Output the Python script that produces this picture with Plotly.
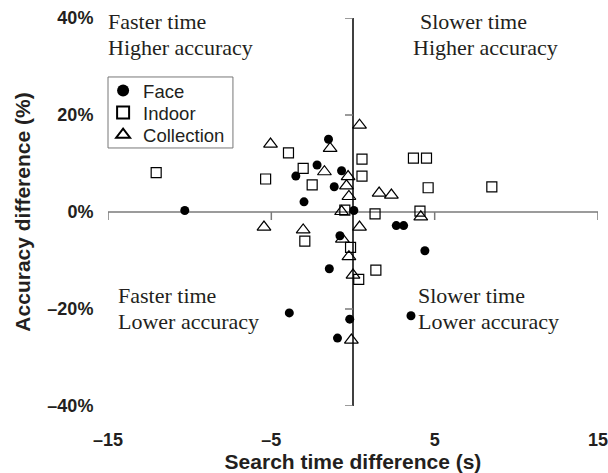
import plotly.graph_objects as go

# ---- data ----
face_x = [-10.3, -1.5, -2.2, -3.5, -0.7, -1.15, -3.0, 0.05, 2.65, 3.1, 4.4, 3.55, -0.8, -1.45, -3.9, -0.2, -0.95]
face_y = [0.3, 15.0, 9.7, 7.4, 8.5, 5.2, 2.1, 0.3, -2.8, -2.8, -8.0, -21.4, -4.9, -11.7, -20.8, -22.1, -26.0]

indoor_x = [-12.05, -5.35, -3.95, -3.05, -2.5, -0.5, 0.55, 0.55, 3.7, 4.5, 4.6, 8.5, 1.35, 4.1, -2.95, -0.15, 0.35, 1.4]
indoor_y = [8.1, 6.8, 12.2, 9.0, 5.6, 0.4, 10.9, 7.4, 11.1, 11.1, 5.0, 5.2, -0.4, 0.2, -6.0, -7.3, -13.9, -12.0]

collection_x = [-5.05, -1.4, -1.75, -0.3, -0.4, -0.25, -0.7, 0.4, 1.6, 2.35, 4.15, -5.45, -3.05, -0.65, 0.4, -0.25, 0.0, -0.1]
collection_y = [14.0, 13.1, 8.3, 7.3, 5.4, 3.2, 0.1, 17.9, 3.9, 3.5, -1.0, -3.1, -3.7, -5.6, -3.1, -9.2, -13.0, -26.4]

x_ticks = [-15, -5, 5, 15]
x_ticktext = ["\u201315", "\u20135", "5", "15"]
y_ticks = [-40, -20, 0, 20, 40]
y_ticktext = ["\u201340%", "\u201320%", "0%", "20%", "40%"]

# quadrant captions: (text, paper x, paper y)
quadrant_text = [
    ("Faster time", -0.004, 0.992),
    ("Higher accuracy", -0.004, 0.923),
    ("Slower time", 0.633, 0.992),
    ("Higher accuracy", 0.618, 0.923),
    ("Faster time", 0.016, 0.286),
    ("Lower accuracy", 0.016, 0.2165),
    ("Slower time", 0.629, 0.286),
    ("Lower accuracy", 0.629, 0.2165),
]

SANS = "Liberation Sans, Arial, sans-serif"
SERIF = "Liberation Serif, Times New Roman, serif"
INK = "#231f20"

fig = go.Figure()
fig.add_trace(go.Scatter(x=face_x, y=face_y, mode="markers", name="Face", legend="legend",
                         marker=dict(symbol="circle", size=9, color="black", line=dict(width=0))))
fig.add_trace(go.Scatter(x=indoor_x, y=indoor_y, mode="markers", name="Indoor", legend="legend2",
                         marker=dict(symbol="square-open", size=10, color="black", line=dict(width=1.2))))
fig.add_trace(go.Scatter(x=collection_x, y=collection_y, mode="markers", name="Collection", legend="legend3",
                         marker=dict(symbol="triangle-up-open", size=12, color="black", line=dict(width=1.2))))

shapes = []
# crossing axes
shapes.append(dict(type="line", xref="x", yref="y", x0=-15, x1=15, y0=0, y1=0,
                   line=dict(color="#7a7a7a", width=1.5), layer="below"))
shapes.append(dict(type="line", xref="x", yref="y", x0=0, x1=0, y0=-40, y1=40,
                   line=dict(color="black", width=1.5), layer="below"))
for xv in x_ticks:
    shapes.append(dict(type="line", xref="x", yref="y", x0=xv, x1=xv, ysizemode="pixel",
                       yanchor=0, y0=0, y1=-8, line=dict(color="#7a7a7a", width=1.5), layer="below"))
for yv in [40, 20, -20, -40]:
    shapes.append(dict(type="line", xref="x", yref="y", y0=yv, y1=yv, xsizemode="pixel",
                       xanchor=0, x0=-8, x1=0, line=dict(color="#7a7a7a", width=1.5), layer="below"))
# legend frame
shapes.append(dict(type="rect", xref="paper", yref="paper", x0=0.0, x1=0.255, y0=0.665, y1=0.848,
                   line=dict(color="#777777", width=1), fillcolor="white", layer="below"))

annotations = []
for txt, xp, yp in quadrant_text:
    annotations.append(dict(text=txt, xref="paper", yref="paper", x=xp, y=yp,
                            xanchor="left", yanchor="middle", showarrow=False,
                            font=dict(family=SERIF, size=22, color=INK)))

leg_common = dict(xanchor="left", yanchor="middle", borderwidth=0, bgcolor="rgba(0,0,0,0)",
                  font=dict(family=SANS, size=18.5, color=INK), itemsizing="constant")

fig.update_layout(
    width=608, height=473,
    margin=dict(l=108, r=10, t=18, b=67),
    paper_bgcolor="white", plot_bgcolor="white",
    showlegend=True,
    legend=dict(x=-0.01, y=0.812, **leg_common),
    legend2=dict(x=-0.01, y=0.755, **leg_common),
    legend3=dict(x=-0.01, y=0.698, **leg_common),
    shapes=shapes,
    annotations=annotations,
    xaxis=dict(range=[-15, 15], tickvals=x_ticks, ticktext=x_ticktext, automargin=False,
               ticklabeloverflow="allow",
               showgrid=False, zeroline=False, showline=False,
               ticks="outside", ticklen=17, tickcolor="rgba(0,0,0,0)",
               tickfont=dict(family=SANS, size=18, color=INK, weight="bold"),
               title=dict(text="Search time difference (s)", standoff=13,
                          font=dict(family=SANS, size=21, color=INK, weight="bold"))),
    yaxis=dict(range=[-40, 40], tickvals=y_ticks, ticktext=y_ticktext, automargin=False,
               ticklabeloverflow="allow",
               showgrid=False, zeroline=False, showline=False,
               ticks="outside", ticklen=10, tickcolor="rgba(0,0,0,0)",
               tickfont=dict(family=SANS, size=18, color=INK, weight="bold"),
               title=dict(text="Accuracy difference (%)", standoff=11,
                          font=dict(family=SANS, size=21, color=INK, weight="bold"))),
)

fig.write_html("out.html")
